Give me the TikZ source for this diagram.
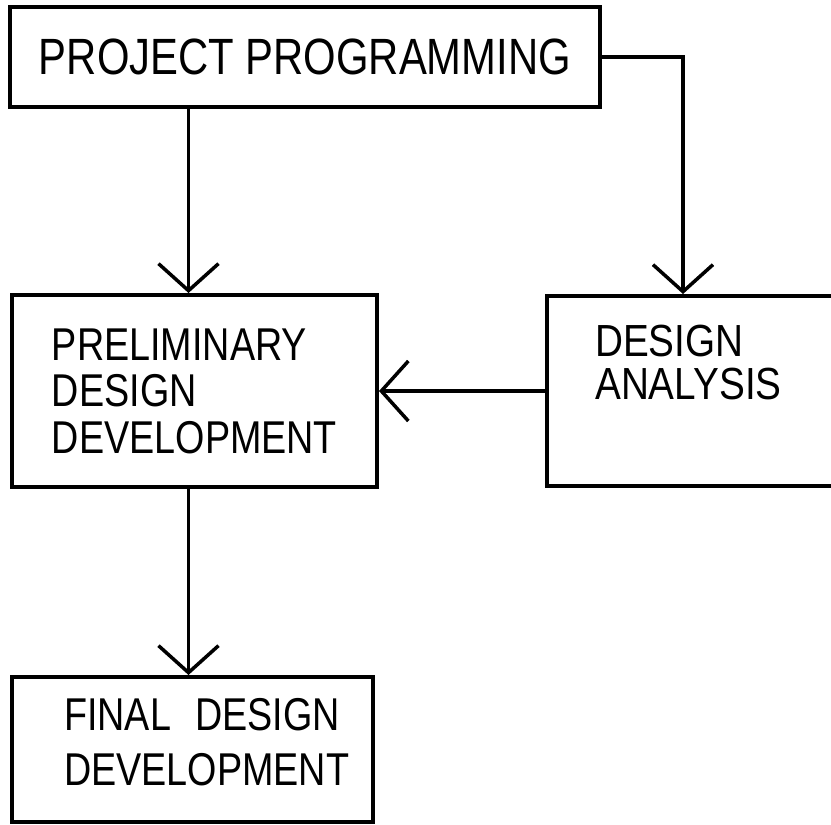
\documentclass[tikz,border=0pt]{standalone}
\usepackage{fontspec}
\newfontfamily\handfont[FakeStretch=0.82]{Liberation Sans}
\newfontfamily\handwide[FakeStretch=0.86]{Liberation Sans}
\usetikzlibrary{arrows.meta, positioning}

\tikzset{
  block/.style={draw, line width=4pt, inner sep=0pt, align=left,
    font=\handfont\fontsize{46}{46.5}\selectfont},
  caption/.style={inner sep=0pt, align=left},
  flow/.style={line width=3.5pt,
    -{Straight Barb[length=27pt, width=60pt, line width=3.5pt]}},
}

\begin{document}
\begin{tikzpicture}[x=1pt, y=-1pt]
\useasboundingbox (0,0) rectangle (831,825);
% the four stages
\node[block, minimum width=590pt, minimum height=100pt, font=\handfont\fontsize{51}{51}\selectfont] (program) at (305,57) {PROJECT PROGRAMMING};
\node[block, minimum width=365pt, minimum height=192pt] (prelim) at (194.5,391) {PRELIMINARY\\DESIGN\\DEVELOPMENT};
\node[block, minimum width=340pt, minimum height=190pt] (analysis) at (717,391) {};
\node[caption, below right=31pt and 50pt of analysis.north west, font=\handwide\fontsize{45}{43}\selectfont] (analysistext) {DESIGN\\ANALYSIS};
\node[block, minimum width=361pt, minimum height=145pt] (final) at (192.5,749.5) {};
\node[caption, below right=17pt and 54pt of final.north west, font=\handfont\fontsize{46}{55}\selectfont] (finaltext)
  {\begin{tabular}{@{}l@{}}FINAL\hspace{24pt}DESIGN\\DEVELOPMENT\end{tabular}};
% connectors
\draw[flow] ([xshift=-6pt]program.south -| prelim.north) -- ([xshift=-6pt]prelim.north);
\draw[flow] (program.east) -| ([xshift=138pt]analysis.north west);
\draw[flow] (analysis.west) -- (prelim.east);
\draw[flow] ([xshift=-6pt]prelim.south) -- ([xshift=-6pt]prelim.south |- final.north);
\end{tikzpicture}
\end{document}
